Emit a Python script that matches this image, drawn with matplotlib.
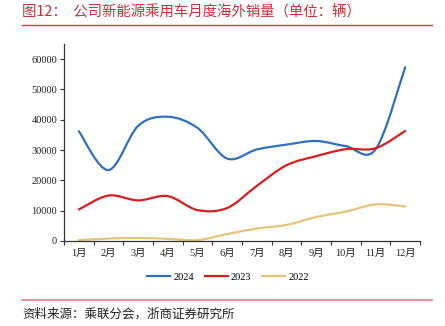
import matplotlib
matplotlib.use("Agg")
import matplotlib.pyplot as plt
from matplotlib.path import Path
from matplotlib.patches import PathPatch
from matplotlib.lines import Line2D
import numpy as np

months = ["1月", "2月", "3月", "4月", "5月", "6月", "7月", "8月", "9月", "10月", "11月", "12月"]
s2024 = [36200, 23400, 38000, 41000, 37300, 27200, 30200, 31800, 33000, 31300, 30200, 57300]
s2023 = [10400, 15000, 13400, 14800, 10200, 10900, 18200, 25000, 28000, 30300, 30600, 36300]
s2022 = [300, 800, 1000, 700, 300, 2300, 4100, 5300, 7900, 9700, 12100, 11400]
series_names = ["2024", "2023", "2022"]
colors = ["#2F70C2", "#D81E1E", "#E5C678"]
yticks = [0, 10000, 20000, 30000, 40000, 50000, 60000]

W, H = 445, 326
fig = plt.figure(figsize=(W / 100, H / 100), dpi=100)

serif = ["Liberation Serif", "Noto Sans CJK SC"]
cjk = ["Noto Sans CJK SC", "DejaVu Sans"]

ax = fig.add_axes([64 / W, 1 - 241 / H, (420 - 64) / W, (241 - 44) / H])


def smooth_path(xs, ys):
    pts = np.column_stack([xs, ys]).astype(float)
    n = len(pts)
    verts = [pts[0]]
    codes = [Path.MOVETO]
    for i in range(n - 1):
        p0 = pts[i - 1] if i > 0 else pts[i]
        p1 = pts[i]
        p2 = pts[i + 1]
        p3 = pts[i + 2] if i + 2 < n else pts[i + 1]
        c1 = p1 + (p2 - p0) / 6.0
        c2 = p2 - (p3 - p1) / 6.0
        verts += [c1, c2, p2]
        codes += [Path.CURVE4] * 3
    return Path(verts, codes)


x = np.arange(len(months))
for vals, c in zip([s2024, s2023, s2022], colors):
    patch = PathPatch(smooth_path(x, vals), facecolor="none", edgecolor=c, lw=1.6,
                      capstyle="round", joinstyle="round")
    ax.add_patch(patch)

ax.set_xlim(-0.5, len(months) - 0.5)
ax.set_ylim(0, 65000)
ax.set_yticks(yticks)
ax.set_yticklabels([str(v) for v in yticks], fontfamily=serif, fontsize=7.5, color="#222222")
ax.set_xticks(x)
ax.set_xticklabels(months, fontfamily=serif, fontsize=7.5, color="#222222")
ax.tick_params(axis="x", length=0, pad=6)
ax.set_xticks(np.arange(-0.5, len(months)), minor=True)
ax.tick_params(axis="x", which="minor", length=3, direction="out", width=0.8, color="#333333")
ax.tick_params(axis="y", length=3, direction="out", width=0.8, color="#333333", pad=2)
for s in ["top", "right"]:
    ax.spines[s].set_visible(False)
for s in ["left", "bottom"]:
    ax.spines[s].set_color("#333333")
    ax.spines[s].set_linewidth(0.9)

handles = [Line2D([], [], color=c, lw=1.6) for c in colors]
fig.legend(handles, series_names, loc="center", bbox_to_anchor=(228 / W, 1 - 277 / H),
           ncol=3, frameon=False, prop={"family": serif, "size": 7.5},
           handlelength=2.2, handletextpad=0.3, columnspacing=1.05)

title_color = "#C8323A"
fig.text(22 / W, 1 - 12 / H, "图12：  公司新能源乘用车月度海外销量（单位：辆）",
         fontfamily=cjk, fontsize=10.4, color=title_color, va="center", ha="left")
fig.add_artist(Line2D([22 / W, 432 / W], [1 - 25 / H, 1 - 25 / H], color="#D04048", lw=1.0))
fig.add_artist(Line2D([22 / W, 432 / W], [1 - 300 / H, 1 - 300 / H], color="#E08088", lw=1.2))
fig.text(22 / W, 1 - 314 / H, "资料来源：乘联分会，浙商证券研究所",
         fontfamily=cjk, fontsize=9, color="#222222", va="center", ha="left")

fig.savefig("out.png", dpi=100)
